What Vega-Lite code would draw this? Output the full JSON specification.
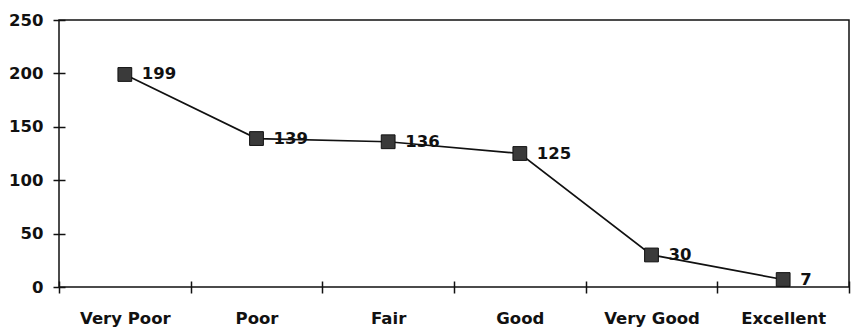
{
  "$schema": "https://vega.github.io/schema/vega-lite/v6.json",
  "width": 790,
  "height": 267,
  "autosize": {"type": "none"},
  "padding": {"left": 59, "top": 20, "right": 2, "bottom": 40},
  "background": "white",
  "config": {
    "view": {"stroke": "#111", "strokeWidth": 1.5},
    "font": "DejaVu Sans",
    "axis": {
      "grid": false,
      "domain": false,
      "tickColor": "#111",
      "tickWidth": 1.5,
      "labelFont": "DejaVu Sans",
      "labelFontWeight": "bold",
      "labelFontSize": 16.5,
      "labelColor": "#111",
      "title": null
    }
  },
  "data": {
    "values": [
      {"rating": "Very Poor", "count": 199},
      {"rating": "Poor", "count": 139},
      {"rating": "Fair", "count": 136},
      {"rating": "Good", "count": 125},
      {"rating": "Very Good", "count": 30},
      {"rating": "Excellent", "count": 7}
    ]
  },
  "encoding": {
    "x": {
      "field": "rating",
      "type": "nominal",
      "sort": null,
      "scale": {"type": "band", "paddingInner": 0, "paddingOuter": 0},
      "axis": {
        "tickBand": "extent",
        "labelAngle": 0,
        "offset": -6,
        "tickSize": 12,
        "labelPadding": 17
      }
    },
    "y": {
      "field": "count",
      "type": "quantitative",
      "scale": {"domain": [0, 250], "nice": false},
      "axis": {
        "values": [0, 50, 100, 150, 200, 250],
        "offset": -6,
        "tickSize": 12,
        "labelPadding": 10
      }
    }
  },
  "layer": [
    {"mark": {"type": "line", "color": "#111", "strokeWidth": 1.7}},
    {
      "mark": {
        "type": "text",
        "align": "left",
        "baseline": "middle",
        "dx": 17,
        "font": "DejaVu Sans",
        "fontWeight": "bold",
        "fontSize": 16.5,
        "color": "#111"
      },
      "encoding": {"text": {"field": "count", "type": "quantitative"}}
    },
    {
      "mark": {
        "type": "point",
        "shape": "square",
        "size": 190,
        "filled": true,
        "fill": "#3a3a3a",
        "stroke": "#111",
        "strokeWidth": 1,
        "opacity": 1
      }
    }
  ]
}
